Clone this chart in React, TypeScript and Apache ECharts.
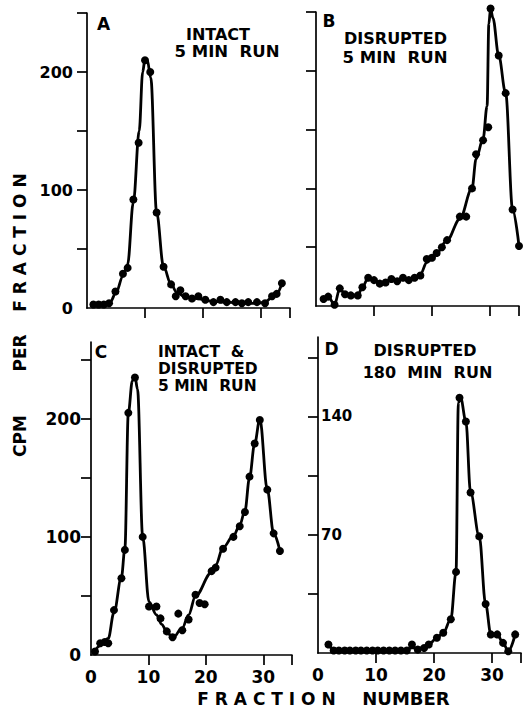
import React, { useEffect, useRef } from "react";
import * as echarts from "echarts";

// ---- Data (fraction number, CPM per fraction) ----
const dotsA: [number, number][] = [
  [1.1, 3], [2, 3], [2.9, 3], [3.8, 4], [4.9, 14], [6.2, 29], [7, 34], [8, 92], [8.9, 140],
  [10, 210], [10.9, 200], [12, 81], [13.2, 35], [14.5, 20], [15.3, 10], [16.1, 15], [17, 10],
  [18.1, 8], [19.2, 10], [20.4, 7], [21.8, 5], [23, 7], [24.1, 5], [25.6, 5], [26.7, 4],
  [27.8, 5], [29.3, 5], [30.7, 4], [31.9, 10], [32.7, 12], [33.6, 21],
];
const curveA: [number, number][] = [
  [1, 2], [3, 2.5], [4, 5], [5, 13], [6.2, 27], [7, 37], [8, 90], [9, 150], [9.6, 200],
  [10, 211], [10.4, 210], [11, 195], [12, 81], [13.2, 35], [14.5, 20], [15.5, 13], [17, 9],
  [19, 8], [21, 6], [24, 5], [27, 4], [29.5, 4], [30.7, 5], [31.9, 9], [32.7, 12], [33.6, 21],
];

const dotsB: [number, number][] = [
  [1.3, 6], [2.1, 8], [3.2, 1], [4.1, 15], [5, 10], [6, 9], [7.2, 9], [8, 16], [9, 24], [10, 22],
  [11, 19], [12, 20], [13, 23], [14, 21], [15, 24], [16, 22], [17, 24], [18, 26], [19.1, 40],
  [20, 41], [20.8, 45], [21.7, 50], [22.6, 56], [24.8, 76], [25.9, 76], [26.9, 100],
  [27.6, 129], [28.8, 141], [29.7, 152], [30.1, 253], [31.5, 213], [32.7, 181], [33.9, 82],
  [35, 51],
];
const curveB: [number, number][] = [
  [1.3, 6], [2.1, 8], [3.2, 1], [4.1, 15], [5, 10], [6, 9], [7.2, 9], [8, 16], [9, 24], [10, 22],
  [11, 19], [12, 20], [13, 23], [14, 21], [15, 24], [16, 22], [17, 24], [18, 27], [19.1, 37],
  [20.8, 45], [22.6, 56], [24.8, 74], [26.9, 100], [27.6, 125], [28.8, 142], [29.5, 170],
  [29.8, 240], [30.1, 253], [30.5, 245], [31.5, 213], [32.7, 181], [33.9, 82], [35, 51],
];

const dotsC: [number, number][] = [
  [0.7, 3], [1.6, 10], [2.4, 11], [3, 10], [4, 38], [5.3, 65], [5.9, 89], [6.5, 205],
  [7.65, 235], [9, 100], [10.1, 41], [11.4, 41], [12.1, 31], [13.2, 20], [14.2, 15], [15.2, 35],
  [15.9, 21], [17, 30], [18.2, 51], [18.9, 44], [19.8, 43], [21, 71], [21.7, 74], [23, 90],
  [24.8, 100], [25.9, 109], [26.8, 121], [27.6, 151], [28.5, 179], [29.4, 199], [30.7, 140],
  [31.8, 103], [32.9, 88],
];
const curveC: [number, number][] = [
  [0.5, 2], [1.6, 8], [3, 14], [4, 36], [5.3, 66], [5.9, 90], [6.5, 205], [7.2, 232],
  [7.65, 236], [8.1, 225], [9, 100], [10.1, 45], [11.4, 34], [12.3, 26], [13.2, 20],
  [14.2, 14], [15.9, 23], [17, 34], [18.2, 50], [21, 70], [21.7, 76], [23, 91], [24.8, 101],
  [25.9, 110], [26.8, 122], [27.6, 150], [28.5, 179], [29.4, 200], [30.7, 140], [31.8, 103],
  [32.9, 88],
];

const dotsD: [number, number][] = [
  [1.8, 5], [2.7, 1.5], [3.6, 1.5], [4.6, 1.5], [5.5, 1.5], [6.5, 1.5], [7.4, 1.5], [8.4, 1.5],
  [9.4, 1.5], [10.3, 1.5], [11.3, 1.5], [12.3, 1.5], [13.3, 1.5], [14.3, 1.5], [15.3, 1.5],
  [16.2, 5], [17.2, 2], [18.3, 3], [19.1, 5], [20.5, 9], [21.6, 12], [22.9, 20], [23.8, 48],
  [24.4, 151], [25.5, 137], [26.3, 95], [27.8, 69], [28.9, 29], [29.8, 11], [30.9, 11],
  [31.9, 6], [32.8, 1], [34, 11],
];
const curveD: [number, number][] = [
  [1.8, 5], [3, 1.5], [15, 1.5], [16.2, 3], [18.3, 3], [19.1, 5], [20.5, 9], [21.6, 12],
  [22.9, 20], [23.8, 48], [24.2, 148], [24.6, 151], [25.5, 137], [26.3, 95], [27.8, 69],
  [28.9, 29], [29.8, 11], [30.9, 11], [31.9, 6], [32.8, 1], [34, 11],
];

// ticks and labels
const xTicks = [10, 20, 30, 35];
const xLabels = [0, 10, 20, 30];
const cpmTicks = [50, 100, 150, 200, 250];
const cpmLabels = [0, 100, 200];
const dTicks = [35, 70, 105, 140, 175];
const dLabels = [70, 140];

const FONT = '"DejaVu Sans", sans-serif';
const BLACK = "#000";

function xAxis(gridIndex: number, showLabels: boolean) {
  return {
    type: "value",
    gridIndex,
    min: 0,
    max: 35,
    axisLine: { show: true, onZero: false, lineStyle: { color: BLACK, width: 1.7 } },
    axisTick: { show: true, length: 10, customValues: xTicks, lineStyle: { color: BLACK, width: 1.7 } },
    axisLabel: {
      show: showLabels,
      customValues: xLabels,
      fontSize: 17,
      fontWeight: "bold",
      fontFamily: FONT,
      color: BLACK,
      margin: 13,
    },
    splitLine: { show: false },
  };
}

function yAxis(
  gridIndex: number,
  max: number,
  ticks: number[],
  labels: number[],
  inside: boolean,
  fontSize: number,
  margin: number
) {
  return {
    type: "value",
    gridIndex,
    min: 0,
    max,
    axisLine: { show: true, onZero: false, lineStyle: { color: BLACK, width: 1.7 } },
    axisTick: { show: true, length: 10, customValues: ticks, lineStyle: { color: BLACK, width: 1.7 } },
    axisLabel: {
      show: labels.length > 0,
      customValues: labels,
      inside,
      fontSize,
      fontWeight: "bold",
      fontFamily: FONT,
      color: BLACK,
      margin,
    },
    splitLine: { show: false },
  };
}

function panelSeries(i: number, curve: [number, number][], dots: [number, number][]) {
  return [
    {
      type: "line",
      xAxisIndex: i,
      yAxisIndex: i,
      data: curve,
      smooth: 0.35,
      smoothMonotone: "x",
      showSymbol: false,
      clip: false,
      lineStyle: { color: BLACK, width: 2.8, opacity: 1 },
      silent: true,
    },
    {
      type: "scatter",
      xAxisIndex: i,
      yAxisIndex: i,
      data: dots,
      symbol: "circle",
      symbolSize: 8,
      clip: false,
      itemStyle: { color: BLACK, opacity: 1 },
      silent: true,
    },
  ];
}

function txt(
  x: number,
  y: number,
  text: string,
  size: number,
  align = "center",
  rotation = 0,
  lineHeight = 15
) {
  return {
    type: "text",
    x,
    y,
    rotation,
    silent: true,
    style: {
      text,
      font: `bold ${size}px ${FONT}`,
      fill: BLACK,
      textAlign: align,
      textVerticalAlign: "middle",
      lineHeight,
    },
  };
}

export default function App() {
  const ref = useRef<HTMLDivElement>(null);
  useEffect(() => {
    if (!ref.current) return;
    const chart = echarts.init(ref.current, null, { renderer: "svg" });
    chart.setOption({
      animation: false,
      backgroundColor: "#fff",
      grid: [
        { left: 87, top: 13, width: 203, height: 295 },
        { left: 316, top: 12, width: 203, height: 294 },
        { left: 91, top: 342, width: 201, height: 313 },
        { left: 318, top: 337, width: 203, height: 316 },
      ],
      xAxis: [xAxis(0, false), xAxis(1, false), xAxis(2, true), xAxis(3, true)],
      yAxis: [
        yAxis(0, 250, cpmTicks, cpmLabels, false, 16, 14),
        yAxis(1, 250, cpmTicks, [], false, 16, 14),
        yAxis(2, 265, cpmTicks, cpmLabels, false, 17, 10),
        yAxis(3, 187, dTicks, dLabels, true, 15, 3),
      ],
      series: [
        ...panelSeries(0, curveA, dotsA),
        ...panelSeries(1, curveB, dotsB),
        ...panelSeries(2, curveC, dotsC),
        ...panelSeries(3, curveD, dotsD),
      ],
      graphic: [
        txt(103.5, 24, "A", 17),
        txt(218, 34, "INTACT", 16),
        txt(227, 51.5, "5 MIN  RUN", 16.5),
        txt(329, 21, "B", 17),
        txt(395.5, 38.5, "DISRUPTED", 16),
        txt(395, 57.5, "5 MIN  RUN", 16.5),
        txt(101, 351.5, "C", 17),
        txt(158, 351.8, "INTACT  &", 15.5, "left"),
        txt(158, 368.8, "DISRUPTED", 15.5, "left"),
        txt(158, 385.8, "5 MIN  RUN", 15.5, "left"),
        txt(331.5, 348.5, "D", 17),
        txt(425, 350, "DISRUPTED", 16),
        txt(427.5, 372.5, "180  MIN  RUN", 16),
        txt(20, 436, "CPM", 17, "center", Math.PI / 2),
        txt(20, 353, "PER", 17, "center", Math.PI / 2),
        txt(20, 242.5, "F R A C T I O N", 17, "center", Math.PI / 2),
        txt(266.5, 698.5, "F R A C T I O N", 17),
        txt(406, 698.5, "NUMBER", 18),
      ],
    });
    return () => chart.dispose();
  }, []);
  return (
    <div
      ref={ref}
      style={{ position: "fixed", left: 0, top: 0, width: 528, height: 711, background: "#fff" }}
    />
  );
}
